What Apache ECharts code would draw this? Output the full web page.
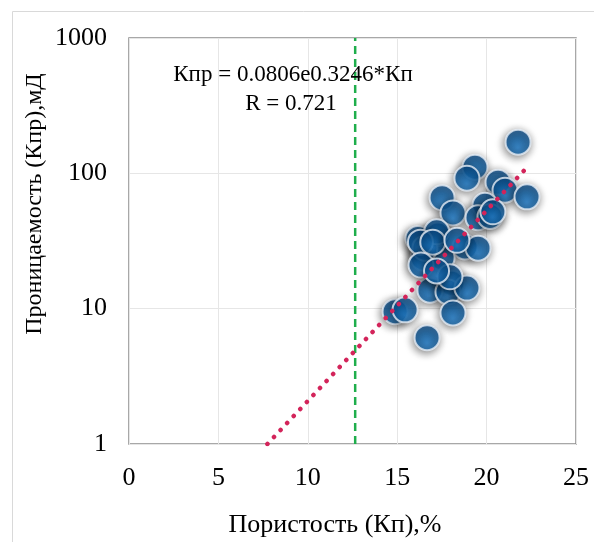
<!DOCTYPE html>
<html>
<head>
<meta charset="utf-8">
<script src="https://cdn.jsdelivr.net/npm/echarts@6/dist/echarts.min.js"></script>
<style>
	html, body { margin: 0; padding: 0; background: #fff; }
	#chart { width: 594px; height: 542px; }
</style>
</head>
<body>
<div id="chart"></div>
<script>
'use strict';
// Пористость (Кп), %
var porosity = [21.76, 19.35, 18.90, 20.64, 21.03, 22.26, 17.51, 19.91, 18.12, 19.52,
	20.19, 17.28, 16.16, 18.79, 19.52, 16.44, 17.51, 16.55, 18.05, 16.83,
	17.84, 18.90, 14.88, 15.44, 18.12, 16.67, 17.95, 17.21, 20.35, 16.30,
	16.99, 18.34, 16.33, 17.20];
// Проницаемость (Кпр), мД
var permeability = [170, 111, 92, 86, 75, 67, 66, 58, 51, 47,
	48, 35, 33, 28.6, 28, 23.7, 23.7, 28, 15.4, 13.7,
	13.3, 14.2, 9.5, 9.8, 9.3, 6.1, 17.2, 37, 52, 31,
	31, 32, 21, 19];
// trend line ends (straight on the log axis)
var trendX = [7.74, 22.1];
var trendY = [1, 105];
// cut-off line
var cutoffX = 12.65;
var cutoffY = [1, 1000];
var xTicks = [0, 5, 10, 15, 20, 25];
var yTicks = [1, 10, 100, 1000];

var font = '"Times New Roman", "Liberation Serif", serif';

var points = [];
for (var i = 0; i < porosity.length; i++) {
	points.push([porosity[i], permeability[i]]);
}
var trend = [];
for (var j = 0; j < trendX.length; j++) {
	trend.push([trendX[j], trendY[j]]);
}
var cutoff = [[cutoffX, cutoffY[0]], [cutoffX, cutoffY[1]]];

var option = {
	animation: false,
	grid: {
		left: 129,
		top: 38,
		right: 18,
		bottom: 98,
		show: true,
		borderColor: '#8c8c8c',
		borderWidth: 1.5
	},
	xAxis: {
		type: 'value',
		min: xTicks[0],
		max: xTicks[xTicks.length - 1],
		interval: 5,
		axisLine: { show: false },
		axisTick: { show: false },
		axisLabel: { color: '#000', fontFamily: font, fontSize: 26, margin: 21 },
		splitLine: { lineStyle: { color: '#e6e6e6', width: 1 } }
	},
	yAxis: {
		type: 'log',
		logBase: 10,
		min: yTicks[0],
		max: yTicks[yTicks.length - 1],
		axisLine: { show: false },
		axisTick: { show: false },
		axisLabel: {
			color: '#000', fontFamily: font, fontSize: 26, margin: 22,
			formatter: function (v) { return String(Math.round(v)); }
		},
		splitLine: { lineStyle: { color: '#e6e6e6', width: 1 } }
	},
	graphic: [
		{ type: 'rect', left: 10, top: 9, shape: { width: 600, height: 531 },
			style: { fill: 'none', stroke: '#d9d9d9', lineWidth: 1 }, z: -10 },
		{ type: 'text', x: 293, y: 75, style: { text: 'Кпр = 0.0806e0.3246*Кп', font: '23px ' + font,
			fill: '#000', align: 'center', verticalAlign: 'middle' }, z: 100 },
		{ type: 'text', x: 291, y: 104, style: { text: 'R = 0.721', font: '23px ' + font,
			fill: '#000', align: 'center', verticalAlign: 'middle' }, z: 100 },
		{ type: 'text', x: 35, y: 204, rotation: Math.PI / 2,
			style: { text: 'Проницаемость (Кпр),мД', font: '24px ' + font,
			fill: '#000', align: 'center', verticalAlign: 'middle' } },
		{ type: 'text', x: 335, y: 525, style: { text: 'Пористость (Кп),%', font: '26px ' + font,
			fill: '#000', align: 'center', verticalAlign: 'middle' } }
	],
	series: [
		{
			type: 'line',
			data: cutoff,
			symbol: 'none',
			lineStyle: { color: '#1fae4c', width: 2.5, type: [8, 5] },
			z: 2
		},
		{
			type: 'scatter',
			data: points,
			symbol: 'circle',
			symbolSize: 25,
			itemStyle: {
				color: {
					type: 'radial', x: 0.5, y: 0.7, r: 0.62,
					colorStops: [
						{ offset: 0, color: '#2381d0' },
						{ offset: 0.6, color: '#0e62a8' },
						{ offset: 1, color: '#094c8a' }
					]
				},
				borderColor: '#e6eef6',
				borderWidth: 2,
				shadowBlur: 8,
				shadowColor: 'rgba(0, 0, 0, 0.6)',
				shadowOffsetX: -1,
				shadowOffsetY: 2
			},
			z: 3
		},
		{
			type: 'line',
			data: trend,
			symbol: 'none',
			lineStyle: { color: '#d3245a', width: 4.5, type: [0.1, 9.5], cap: 'round' },
			z: 4
		}
	]
};

var chart = echarts.init(document.getElementById('chart'));
chart.setOption(option);
</script>
</body>
</html>
